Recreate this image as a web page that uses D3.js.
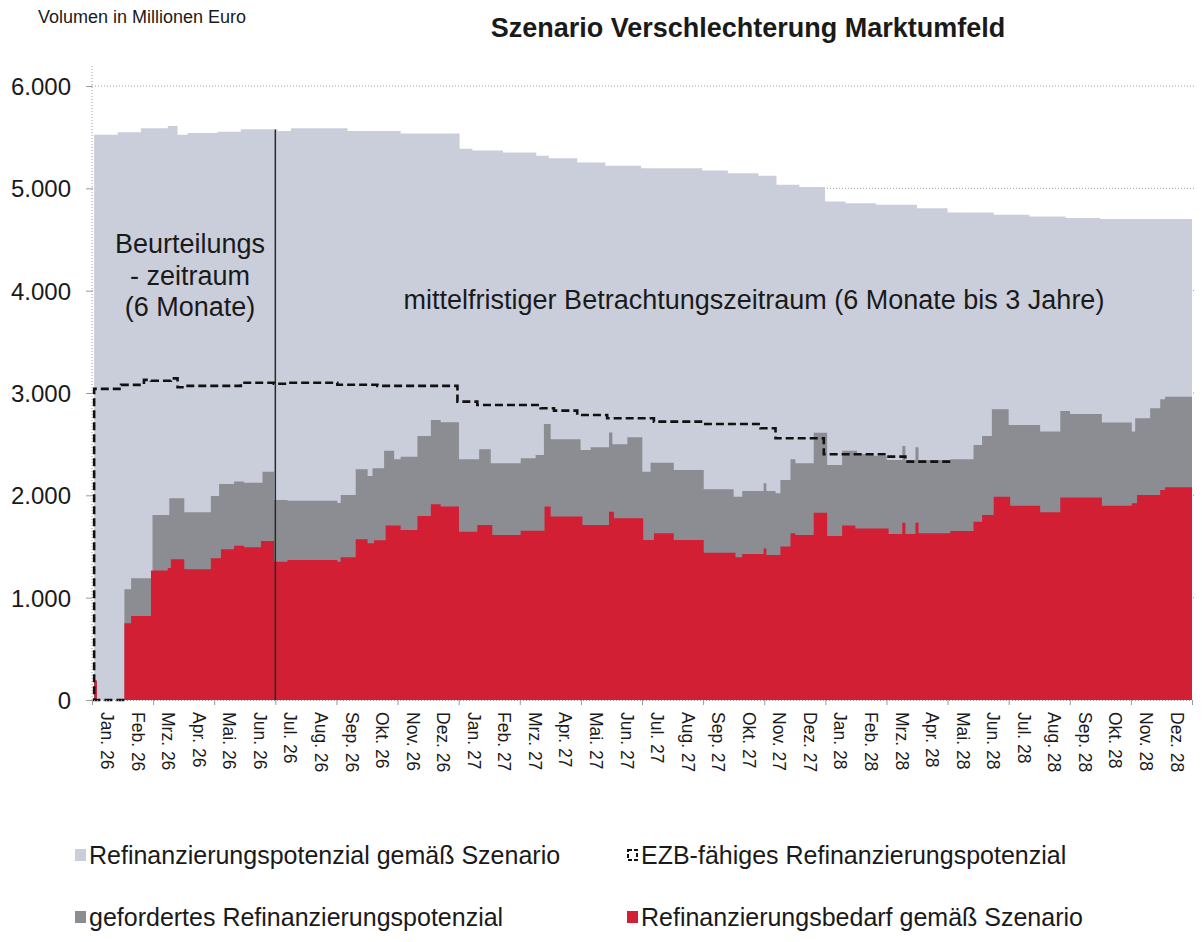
<!DOCTYPE html>
<html>
<head>
<meta charset="utf-8">
<script src="https://cdn.jsdelivr.net/npm/d3@7/dist/d3.min.js"></script>
<style>
body { margin: 0; background: #fff; }
text { font-family: "Liberation Sans", Arial, sans-serif; fill: #1a1a1a; }
</style>
</head>
<body>
<svg id="chart" width="1202" height="942"></svg>
<script>
// month offsets since Jan 2026 -> value (Mio. EUR), step changes
var monthLabels = ["Jan. 26","Feb. 26","Mrz. 26","Apr. 26","Mai. 26","Jun. 26","Jul. 26","Aug. 26","Sep. 26","Okt. 26","Nov. 26","Dez. 26",
	"Jan. 27","Feb. 27","Mrz. 27","Apr. 27","Mai. 27","Jun. 27","Jul. 27","Aug. 27","Sep. 27","Okt. 27","Nov. 27","Dez. 27",
	"Jan. 28","Feb. 28","Mrz. 28","Apr. 28","Mai. 28","Jun. 28","Jul. 28","Aug. 28","Sep. 28","Okt. 28","Nov. 28","Dez. 28"];
var yTicks = [0, 1000, 2000, 3000, 4000, 5000, 6000];

var potenzial = [[0.07,5523],[0.84,5548],[1.6,5587],[2.48,5609],[2.8,5523],[3.13,5540],[4.11,5554],[4.87,5577],
	[6.07,5560],[6.51,5587],[8.36,5560],[10.1,5537],[12.03,5386],[12.45,5370],[13.45,5350],[14.54,5318],[14.95,5295],
	[15.88,5253],[16.8,5220],[17.97,5197],[19.97,5174],[20.81,5148],[21.81,5122],[22.4,5034],[23.15,5012],[23.99,4871],
	[24.66,4855],[25.66,4839],[27.0,4806],[28.0,4763],[29.51,4741],[30.68,4725],[31.86,4709],[33.0,4700]];

var gefordert = [[0.07,190],[0.16,0],[1.06,1082],[1.28,1189],[1.98,1808],[2.53,1971],[3.02,1834],[3.89,1994],[4.16,2111],
	[4.65,2134],[4.98,2124],[5.58,2231],[5.96,1955],[6.4,1948],[8.03,1926],[8.14,2003],[8.63,2254],[9.02,2189],[9.18,2264],
	[9.56,2436],[9.89,2352],[10.1,2378],[10.65,2580],[11.09,2736],[11.41,2715],[12.01,2352],[12.67,2450],[13.05,2313],
	[14.03,2362],[14.52,2395],[14.79,2697],[15.01,2548],[15.99,2443],[16.32,2470],[16.92,2615],[17.03,2500],[17.52,2567],
	[18.01,2231],[18.28,2319],[19.04,2248],[20.02,2059],[21.0,1987],[21.28,2042],[21.98,2118],[22.07,2042],[22.37,2020],
	[22.53,2150],[22.86,2352],[23.02,2313],[23.62,2612],[24.06,2297],[24.55,2436],[25.04,2404],[25.58,2388],[26.01,2345],
	[26.52,2483],[26.62,2345],[26.95,2470],[27.05,2345],[28.09,2352],[28.85,2492],[29.13,2580],[29.45,2841],[30.0,2688],
	[31.03,2623],[31.69,2825],[32.01,2795],[33.05,2711],[34.03,2623],[34.14,2753],[34.63,2851],[34.96,2940],[35.12,2964]];

var bedarf = [[0.07,190],[0.16,0],[1.06,750],[1.28,820],[1.93,1265],[2.48,1290],[2.58,1375],[3.02,1277],[3.89,1385],
	[4.22,1472],[4.65,1508],[4.98,1492],[5.53,1554],[5.96,1352],[6.4,1368],[8.03,1352],[8.14,1394],[8.63,1570],[9.02,1531],
	[9.23,1560],[9.61,1704],[10.1,1662],[10.65,1798],[11.09,1912],[11.41,1890],[12.01,1645],[12.61,1710],[13.1,1613],
	[14.03,1655],[14.81,1890],[15.01,1792],[16.05,1710],[16.92,1840],[17.08,1775],[18.04,1564],[18.39,1629],[19.04,1564],
	[20.02,1440],[21.06,1394],[21.28,1427],[21.98,1480],[22.07,1417],[22.53,1499],[22.86,1630],[23.02,1613],[23.62,1831],
	[24.06,1603],[24.55,1704],[24.98,1677],[26.07,1622],[26.52,1733],[26.62,1622],[26.95,1733],[27.05,1629],[28.09,1652],
	[28.85,1743],[29.13,1808],[29.51,1987],[30.05,1899],[31.03,1834],[31.69,1978],[33.05,1899],[34.03,1922],[34.2,2003],
	[34.96,2052],[35.12,2079]];

var ezb = [[1.06,0],[0.07,0],[0.07,3040],[0.95,3079],[1.7,3128],[1.93,3120],[2.58,3143],[2.8,3056],[3.13,3070],[4.87,3100],
	[5.95,3090],[6.4,3100],[8.03,3080],[9.34,3070],[11.96,2916],[12.61,2883],[14.68,2851],[15.12,2828],[15.88,2785],
	[16.86,2753],[18.39,2720],[20.02,2697],[21.88,2655],[22.37,2558],[23.95,2401],[26.02,2378],[26.62,2329],[28.09,2329]];

var legendItems = [
	{name: "Refinanzierungspotenzial gemäß Szenario", type: "box", color: "#cacedb"},
	{name: "EZB-fähiges Refinanzierungspotenzial", type: "dash", color: "#111"},
	{name: "gefordertes Refinanzierungspotenzial", type: "box", color: "#8c8d92"},
	{name: "Refinanzierungsbedarf gemäß Szenario", type: "box", color: "#d21f34"}
];

var svg = d3.select("#chart");
var margin = {top: 86, left: 92, right: 10, bottom: 242};
var width = 1202, height = 942;

var x = d3.scaleLinear().domain([0, 36]).range([margin.left, 1192]);
var y = d3.scaleLinear().domain([0, 6000]).range([height - margin.bottom, margin.top]);
var xBand = d3.scaleBand().domain(monthLabels).range([margin.left, 1192]);
var de = d3.formatLocale({decimal: ",", thousands: ".", grouping: [3], currency: ["", " €"]});

// grid
svg.append("g")
	.selectAll("line")
	.data(yTicks.filter(function(d) { return d > 0; }))
	.join("line")
	.attr("x1", x(0)).attr("x2", x(36) + 4)
	.attr("y1", function(d) { return y(d); }).attr("y2", function(d) { return y(d); })
	.style("stroke", "#9a9a9a").style("stroke-width", 1).style("stroke-dasharray", "1,2");

function withEnd(data) {
	return data.concat([[36, data[data.length - 1][1]]]);
}

var area = d3.area()
	.x(function(d) { return x(d[0]); })
	.y0(y(0))
	.y1(function(d) { return y(d[1]); })
	.curve(d3.curveStepAfter);

svg.append("path").datum(withEnd(potenzial)).attr("d", area).style("fill", "#cacedb");
svg.append("path").datum(withEnd(gefordert)).attr("d", area).style("fill", "#8c8d92");
svg.append("path").datum(withEnd(bedarf)).attr("d", area).style("fill", "#d21f34");

// separator Beurteilungszeitraum
svg.append("line")
	.attr("x1", x(6)).attr("x2", x(6))
	.attr("y1", y(0)).attr("y2", y(5575))
	.style("stroke", "#2a2a2a").style("stroke-width", 1.5);

var lineEzb = d3.line()
	.x(function(d) { return x(d[0]); })
	.y(function(d) { return y(d[1]); })
	.curve(d3.curveStepAfter);

svg.append("path")
	.datum(ezb)
	.attr("d", lineEzb)
	.style("fill", "none")
	.style("stroke", "#111")
	.style("stroke-width", 2.6)
	.style("stroke-dasharray", "8,4");

// y axis
var yAxis = svg.append("g")
	.attr("transform", "translate(" + margin.left + ",0)")
	.call(d3.axisLeft(y).tickValues(yTicks).tickSize(6).tickPadding(15).tickFormat(de.format(",")));
yAxis.select(".domain").remove();
yAxis.append("line")
	.attr("x1", 0).attr("x2", 0).attr("y1", y(0)).attr("y2", 65)
	.style("stroke", "#9a9a9a").style("stroke-dasharray", "1,2");
yAxis.selectAll(".tick line").style("stroke", "#9a9a9a");
yAxis.selectAll(".tick text").style("font-size", "24px").attr("dy", "0.36em");

// x axis
var xAxis = svg.append("g")
	.attr("transform", "translate(0," + y(0) + ")")
	.call(d3.axisBottom(x).tickValues(d3.range(0, 37, 2)).tickSize(5).tickFormat(""));
xAxis.select(".domain").style("stroke", "#9a9a9a").style("stroke-dasharray", "1,2");
xAxis.selectAll(".tick line").style("stroke", "#9a9a9a");

svg.append("g")
	.selectAll("text")
	.data(monthLabels)
	.join("text")
	.attr("transform", function(d) { return "translate(" + (xBand(d) + xBand.bandwidth() / 2) + "," + (y(0) + 12) + ") rotate(90)"; })
	.attr("dy", "0.35em")
	.style("font-size", "17.5px")
	.text(function(d) { return d; });

// titles
svg.append("text").attr("x", 38).attr("y", 23).style("font-size", "18px").text("Volumen in Millionen Euro");
svg.append("text").attr("x", 748).attr("y", 37).attr("text-anchor", "middle")
	.style("font-size", "27px").style("font-weight", "bold")
	.text("Szenario Verschlechterung Marktumfeld");

// annotations
var note = svg.append("g").attr("text-anchor", "middle").style("font-size", "27px");
note.append("text").attr("x", 190).attr("y", 253).text("Beurteilungs");
note.append("text").attr("x", 190).attr("y", 285).text("- zeitraum");
note.append("text").attr("x", 190).attr("y", 316).text("(6 Monate)");
note.append("text").attr("x", 754).attr("y", 309).text("mittelfristiger Betrachtungszeitraum (6 Monate bis 3 Jahre)");

// legend
var legend = svg.append("g")
	.selectAll("g")
	.data(legendItems)
	.join("g")
	.attr("transform", function(d, i) { return "translate(" + (i % 2 ? 627 : 75) + "," + (i < 2 ? 855 : 917) + ")"; });
legend.filter(function(d) { return d.type === "box"; })
	.append("rect")
	.attr("x", 0).attr("y", -6).attr("width", 11).attr("height", 12)
	.style("fill", function(d) { return d.color; });
legend.filter(function(d) { return d.type === "dash"; })
	.append("rect")
	.attr("x", 1).attr("y", -5).attr("width", 9).attr("height", 10)
	.style("fill", "none").style("stroke", "#111").style("stroke-width", 2).style("stroke-dasharray", "4,2");
legend.append("text")
	.attr("x", 14).attr("y", 0).attr("dy", "0.36em")
	.style("font-size", "25px")
	.text(function(d) { return d.name; });
</script>
</body>
</html>
